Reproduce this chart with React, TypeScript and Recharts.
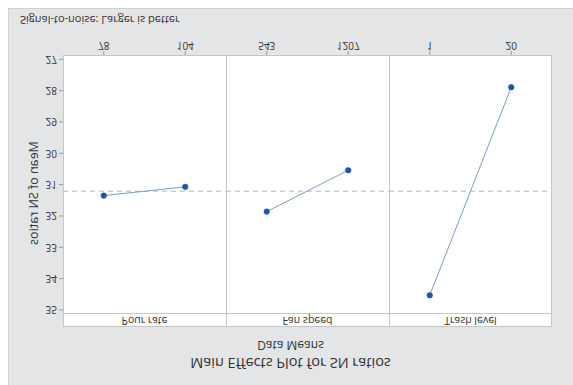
import React from 'react';
import { LineChart, Line, XAxis, YAxis, ReferenceLine } from 'recharts';

// values read from the (vertically mirrored) reference picture
const pourLevels = ['78', '104'];
const pourMeans = [31.35, 31.07];
const fanLevels = ['543', '1207'];
const fanMeans = [31.86, 30.54];
const trashLevels = ['1', '20'];
const trashMeans = [34.53, 27.89];
const yTicks = [27, 28, 29, 30, 31, 32, 33, 34, 35];
const overallMean = 31.21;

const FONT = '"Open Sans", "DejaVu Sans", sans-serif';
const TEXT = '#333';
const FRAME = '#c6c6c6';
const DOMAIN: [number, number] = [26.863, 35.128];

const toRows = (levels: string[], means: number[]) =>
  levels.map((level, i) => ({ level, mean: means[i] }));

const panels = [
  { name: 'Pour rate', rows: toRows(pourLevels, pourMeans) },
  { name: 'Fan speed', rows: toRows(fanLevels, fanMeans) },
  { name: 'Trash level', rows: toRows(trashLevels, trashMeans) },
];

const PLOT_LEFT = 63;
const PANEL_W = 163;
const STRIP_TOP = 58;
const DATA_TOP = 71;
const DATA_BOTTOM = 330;
const Y_AXIS_W = 55;
const X_AXIS_H = 31;
const TOP_PAD = 10;

const Panel: React.FC<{ rows: any[]; withAxis: boolean }> = ({ rows, withAxis }) => {
  const width = withAxis ? PANEL_W + Y_AXIS_W : PANEL_W;
  const pad = PANEL_W / 4;
  return (
    <LineChart
      width={width}
      height={DATA_BOTTOM - DATA_TOP + X_AXIS_H + TOP_PAD}
      data={rows}
      margin={{ top: TOP_PAD, right: 0, bottom: 0, left: 0 }}
    >
      <XAxis
        dataKey="level"
        type="category"
        padding={{ left: pad, right: pad }}
        axisLine={false}
        tickSize={4}
        tickMargin={2}
        height={X_AXIS_H}
        stroke="#999"
        tick={{ fill: TEXT, fontSize: 10, fontFamily: FONT }}
      />
      <YAxis
        hide={!withAxis}
        width={Y_AXIS_W}
        domain={DOMAIN}
        ticks={yTicks}
        allowDataOverflow
        axisLine={false}
        tickSize={4}
        tickMargin={2}
        stroke="#999"
        tick={{ fill: TEXT, fontSize: 10, fontFamily: FONT }}
      />
      <ReferenceLine y={overallMean} stroke="#b8b8b8" strokeDasharray="5 4" />
      <Line
        dataKey="mean"
        stroke="#7d9bcc"
        strokeWidth={1}
        dot={{ r: 2.8, fill: '#1f56a4', stroke: '#1f56a4', strokeWidth: 0.5 }}
        isAnimationActive={false}
      />
    </LineChart>
  );
};

export default function App() {
  return (
    <div
      style={{
        position: 'absolute',
        left: 0,
        top: 0,
        width: 573,
        height: 385,
        overflow: 'hidden',
        background: '#fff',
        fontFamily: FONT,
        color: TEXT,
        transform: 'scaleY(-1)',
      }}
    >
      <div
        style={{
          position: 'absolute',
          left: 8,
          top: 0,
          width: 565,
          height: 376,
          background: '#e4e5e7',
          borderLeft: '1px solid #d2d3d5',
          borderBottom: '1px solid #cfd0d2',
        }}
      />
      <div style={{ position: 'absolute', left: 8, top: 12, width: 565, textAlign: 'center', fontSize: 14.5 }}>
        Main Effects Plot for SN ratios
      </div>
      <div style={{ position: 'absolute', left: 8, top: 31, width: 565, textAlign: 'center', fontSize: 12 }}>
        Data Means
      </div>
      <div style={{ position: 'absolute', left: 20, top: 357, fontSize: 11, whiteSpace: 'nowrap' }}>
        Signal-to-noise: Larger is better
      </div>
      <div
        style={{
          position: 'absolute',
          left: 34 - 80,
          top: 192 - 9,
          width: 160,
          height: 18,
          lineHeight: '18px',
          textAlign: 'center',
          fontSize: 12.5,
          transform: 'rotate(-90deg)',
        }}
      >
        Mean of SN ratios
      </div>

      <div
        style={{
          position: 'absolute',
          left: PLOT_LEFT,
          top: STRIP_TOP,
          width: PANEL_W * 3,
          height: DATA_BOTTOM - STRIP_TOP,
          background: '#fff',
        }}
      />

      {panels.map((p, i) => (
        <div
          key={p.name}
          style={{
            position: 'absolute',
            left: i === 0 ? PLOT_LEFT - Y_AXIS_W : PLOT_LEFT + PANEL_W * i,
            top: DATA_TOP - TOP_PAD,
          }}
        >
          <Panel rows={p.rows} withAxis={i === 0} />
        </div>
      ))}

      {panels.map((p, i) => (
        <div
          key={`strip-${p.name}`}
          style={{
            position: 'absolute',
            left: PLOT_LEFT + PANEL_W * i,
            top: STRIP_TOP,
            width: PANEL_W,
            height: DATA_TOP - STRIP_TOP,
            lineHeight: `${DATA_TOP - STRIP_TOP}px`,
            textAlign: 'center',
            fontSize: 10.5,
            background: '#fff',
          }}
        >
          {p.name}
        </div>
      ))}

      <div
        style={{
          position: 'absolute',
          left: PLOT_LEFT,
          top: STRIP_TOP,
          width: PANEL_W * 3,
          height: DATA_BOTTOM - STRIP_TOP,
          border: `1px solid ${FRAME}`,
          boxSizing: 'border-box',
          pointerEvents: 'none',
        }}
      />
      <div
        style={{
          position: 'absolute',
          left: PLOT_LEFT,
          top: DATA_TOP,
          width: PANEL_W * 3,
          height: 1,
          background: FRAME,
        }}
      />
      {[1, 2].map((k) => (
        <div
          key={k}
          style={{
            position: 'absolute',
            left: PLOT_LEFT + PANEL_W * k,
            top: STRIP_TOP,
            width: 1,
            height: DATA_BOTTOM - STRIP_TOP,
            background: FRAME,
          }}
        />
      ))}
    </div>
  );
}
